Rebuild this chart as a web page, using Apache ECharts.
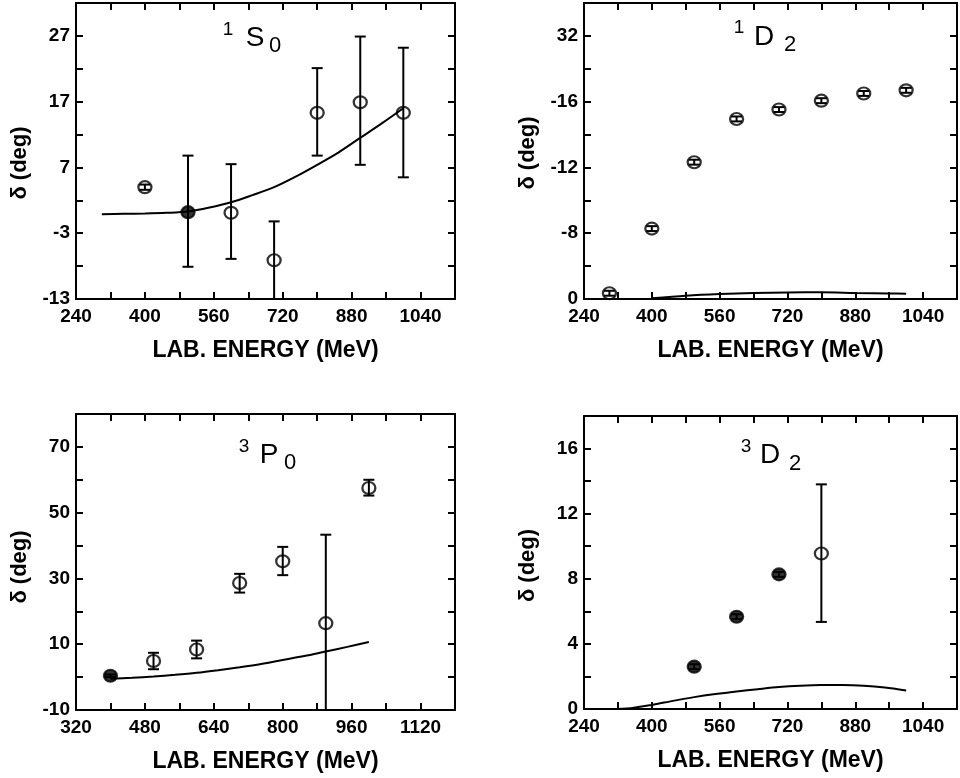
<!DOCTYPE html>
<html>
<head>
<meta charset="utf-8">
<script src="https://cdn.jsdelivr.net/npm/echarts@6/dist/echarts.min.js"></script>
<style>
  html, body { margin: 0; padding: 0; background: #fff; overflow: hidden; }
  #chart { width: 960px; height: 778px; }
</style>
</head>
<body>
<div id="chart"></div>
<script>
// 1S0 phase shifts
const s0Energy = [400, 500, 600, 700, 800, 900, 1000];
const s0Delta = [4.0, 0.2, 0.1, -7.1, 15.3, 16.9, 15.3];
const s0Low = [3.6, -8.1, -6.9, -13, 8.8, 7.4, 5.5];
const s0High = [4.4, 8.8, 7.5, -1.2, 22.1, 26.9, 25.2];
const s0CurveE = [300, 350, 400, 450, 500, 550, 600, 650, 700, 750, 800, 850, 900, 950, 1000];
const s0CurveD = [-0.1, -0.05, 0.0, 0.1, 0.3, 0.9, 1.7, 2.8, 4.0, 5.6, 7.4, 9.3, 11.5, 13.7, 16.0];

// 1D2 phase shifts (positions on the printed scale)
const d2sEnergy = [300, 400, 500, 600, 700, 800, 900, 1000];
const d2sDelta = [0.35, 4.28, 8.32, 10.95, 11.52, 12.06, 12.5, 12.69];
const d2sLow = [0.2, 4.13, 8.17, 10.8, 11.37, 11.91, 12.35, 12.54];
const d2sHigh = [0.5, 4.43, 8.47, 11.1, 11.67, 12.21, 12.65, 12.84];
const d2sCurveE = [400, 480, 560, 640, 720, 800, 880, 960, 1000];
const d2sCurveD = [0.04, 0.2, 0.3, 0.36, 0.4, 0.41, 0.37, 0.34, 0.32];
const d2sTickLabels = ['0', '-8', '-12', '-16', '32'];

// 3P0 phase shifts
const p0Energy = [400, 500, 600, 700, 800, 900, 1000];
const p0Delta = [0.4, 4.9, 8.4, 28.6, 35.2, 16.4, 57.5];
const p0Low = [0.0, 2.4, 5.7, 25.7, 31.0, -10, 55.2];
const p0High = [0.8, 7.4, 11.1, 31.4, 39.6, 43.3, 60.0];
const p0CurveE = [400, 450, 500, 550, 600, 650, 700, 750, 800, 850, 900, 950, 1000];
const p0CurveD = [-0.5, -0.2, 0.2, 0.7, 1.3, 2.1, 3.0, 4.0, 5.2, 6.4, 7.8, 9.2, 10.7];

// 3D2 phase shifts
const d2tEnergy = [500, 600, 700, 800];
const d2tDelta = [2.6, 5.67, 8.27, 9.55];
const d2tLow = [2.45, 5.52, 8.12, 5.35];
const d2tHigh = [2.75, 5.82, 8.42, 13.8];
const d2tCurveE = [300, 350, 400, 450, 500, 550, 600, 650, 700, 750, 800, 850, 900, 950, 1000];
const d2tCurveD = [0.0, 0.05, 0.25, 0.5, 0.73, 0.92, 1.08, 1.22, 1.35, 1.43, 1.47, 1.47, 1.43, 1.32, 1.14];

const FONT = "'Liberation Sans', Arial, sans-serif";
const zip = (a, b) => a.map((v, i) => [v, b[i]]);

const panels = [
  {
    grid: { left: 76, top: 3, width: 379, height: 296 },
    x: [240, 1120], y: [-13, 32, 5],
    yLabel: (v) => ((v + 13) % 10 === 0 ? String(v) : ''),
    pts: zip(s0Energy, s0Delta), bars: s0Energy.map((e, i) => [e, s0Low[i], s0High[i]]),
    curve: zip(s0CurveE, s0CurveD), solid: [500],
    title: ['1', 'S', '0'], tpos: [[228, 30], [255, 38], [275, 46]],
    yNamePad: [0, 24, 0, 0],
  },
  {
    grid: { left: 584, top: 3, width: 380, height: 296 },
    x: [240, 1120], y: [0, 18, 2],
    yLabel: (v) => (v % 4 === 0 ? d2sTickLabels[v / 4] : ''),
    pts: zip(d2sEnergy, d2sDelta), bars: d2sEnergy.map((e, i) => [e, d2sLow[i], d2sHigh[i]]),
    curve: zip(d2sCurveE, d2sCurveD), solid: [],
    title: ['1', 'D', '2'], tpos: [[739, 28], [764, 37], [790, 45]],
    yNamePad: [0, 4, 0, 0],
  },
  {
    grid: { left: 76, top: 414, width: 379, height: 296 },
    x: [320, 1200], y: [-10, 80, 10],
    yLabel: (v) => ((v + 10) % 20 === 0 ? String(v) : ''),
    pts: zip(p0Energy, p0Delta), bars: p0Energy.map((e, i) => [e, p0Low[i], p0High[i]]),
    curve: zip(p0CurveE, p0CurveD), solid: [400],
    title: ['3', 'P', '0'], tpos: [[244, 447], [269, 455], [290, 463]],
    yNamePad: [0, 10, 0, 0],
  },
  {
    grid: { left: 584, top: 416, width: 380, height: 293 },
    x: [240, 1120], y: [0, 18, 2],
    yLabel: (v) => (v % 4 === 0 ? String(v) : ''),
    pts: zip(d2tEnergy, d2tDelta), bars: d2tEnergy.map((e, i) => [e, d2tLow[i], d2tHigh[i]]),
    curve: zip(d2tCurveE, d2tCurveD), solid: [500, 600, 700],
    title: ['3', 'D', '2'], tpos: [[746, 447], [770, 455], [795, 464]],
    yNamePad: [0, 6, 0, 0],
  },
];

const lineStyle = { color: '#000', width: 2 };
const tick = { show: true, inside: true, length: 7, lineStyle: { color: '#000', width: 2 } };
const labelStyle = { color: '#000', fontFamily: FONT, fontWeight: 'bold', fontSize: 19 };
const nameStyle = { color: '#000', fontFamily: FONT, fontWeight: 'bold', fontSize: 23 };

function errorBar(params, api) {
  const x = api.value(0);
  const lo = api.coord([x, api.value(1)]);
  const hi = api.coord([x, api.value(2)]);
  const w = 5.5;
  const style = { stroke: '#000', lineWidth: 2 };
  return {
    type: 'group',
    children: [
      { type: 'line', shape: { x1: lo[0], y1: lo[1], x2: hi[0], y2: hi[1] }, style },
      { type: 'line', shape: { x1: lo[0] - w, y1: lo[1], x2: lo[0] + w, y2: lo[1] }, style },
      { type: 'line', shape: { x1: hi[0] - w, y1: hi[1], x2: hi[0] + w, y2: hi[1] }, style },
    ],
  };
}

const grid = [], xAxis = [], yAxis = [], series = [], graphic = [];

panels.forEach((p, i) => {
  grid.push(p.grid);
  const xFmt = (v) => ((v - p.x[0]) % 160 === 0 ? String(v) : '');
  const xBase = {
    type: 'value', gridIndex: i, min: p.x[0], max: p.x[1], interval: 80,
    axisLine: { show: true, onZero: false, lineStyle }, axisTick: tick, splitLine: { show: false },
  };
  xAxis.push({
    ...xBase, position: 'bottom',
    axisLabel: { ...labelStyle, margin: 8, formatter: xFmt, showMinLabel: true, showMaxLabel: true },
    name: 'LAB. ENERGY (MeV)', nameLocation: 'middle', nameGap: 40, nameTextStyle: nameStyle,
  });
  xAxis.push({ ...xBase, position: 'top', axisLabel: { show: false } });

  const yBase = {
    type: 'value', gridIndex: i, min: p.y[0], max: p.y[1], interval: p.y[2],
    axisLine: { show: true, onZero: false, lineStyle }, axisTick: tick, splitLine: { show: false },
  };
  yAxis.push({
    ...yBase, position: 'left',
    axisLabel: { ...labelStyle, margin: 6, formatter: p.yLabel, showMinLabel: true, showMaxLabel: true },
    name: 'δ (deg)', nameLocation: 'middle', nameGap: 45, nameRotate: 90,
    nameTextStyle: { ...nameStyle, fontSize: 22, padding: p.yNamePad },
  });
  yAxis.push({ ...yBase, position: 'right', axisLabel: { show: false } });

  const xi = i * 2, yi = i * 2;
  series.push({
    type: 'line', xAxisIndex: xi, yAxisIndex: yi, data: p.curve,
    showSymbol: false, smooth: 0.3, lineStyle: { color: '#000', width: 2 }, z: 2,
  });
  series.push({
    type: 'custom', xAxisIndex: xi, yAxisIndex: yi, data: p.bars,
    renderItem: errorBar, encode: { x: 0, y: [1, 2] }, z: 3,
  });
  series.push({
    type: 'scatter', xAxisIndex: xi, yAxisIndex: yi, data: p.pts,
    symbol: 'circle', symbolSize: [13, 12],
    itemStyle: {
      color: (d) => (p.solid.includes(d.value[0]) ? '#000' : 'rgba(0,0,0,0)'),
      borderColor: '#000', borderWidth: 2.2,
    },
    z: 4,
  });

  const sizes = [19, 28, 22];
  p.title.forEach((t, k) => {
    graphic.push({
      type: 'text', x: p.tpos[k][0], y: p.tpos[k][1],
      style: {
        text: t, fill: '#000', font: `500 ${sizes[k]}px ${FONT}`,
        align: 'center', verticalAlign: 'middle',
      },
    });
  });
});

const chart = echarts.init(document.getElementById('chart'));
chart.setOption({
  animation: false,
  backgroundColor: '#fff',
  grid, xAxis, yAxis, series, graphic,
});
</script>
</body>
</html>
